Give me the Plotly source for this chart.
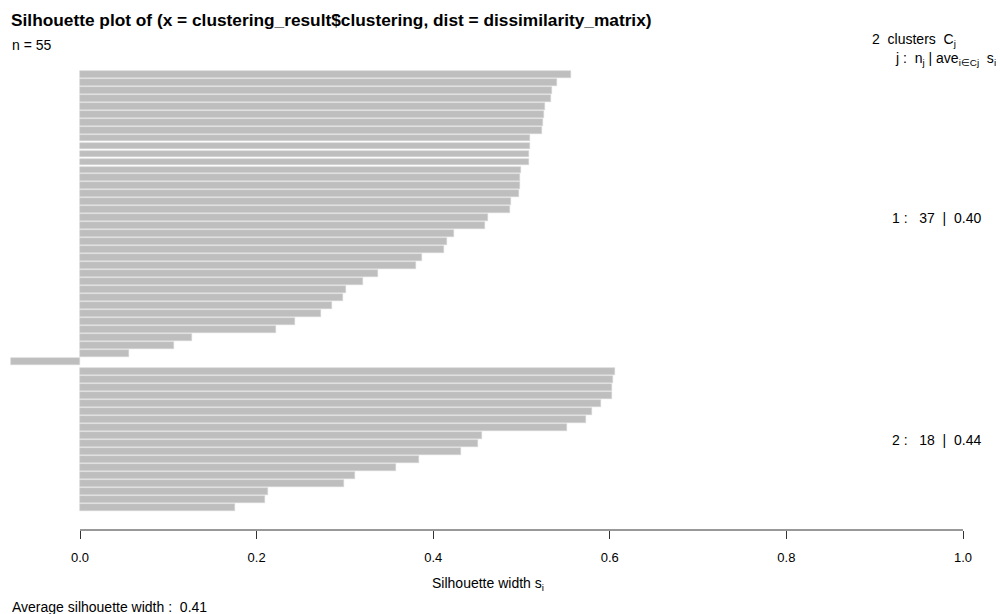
import plotly.graph_objects as go

# ---- data ----
cluster1_widths = [0.556, 0.540, 0.535, 0.533, 0.527, 0.526, 0.524, 0.523,
                   0.510, 0.510, 0.509, 0.508, 0.499, 0.498, 0.498, 0.497,
                   0.488, 0.487, 0.462, 0.459, 0.423, 0.416, 0.412, 0.387,
                   0.380, 0.338, 0.321, 0.301, 0.298, 0.285, 0.273, 0.243,
                   0.222, 0.127, 0.106, 0.055, -0.078]
cluster2_widths = [0.606, 0.604, 0.602, 0.602, 0.590, 0.580, 0.573, 0.552,
                   0.455, 0.451, 0.431, 0.384, 0.358, 0.311, 0.299, 0.213,
                   0.209, 0.175]
cluster_ids = [1, 2]
cluster_sizes = [37, 18]
cluster_avgs = [0.40, 0.44]
avg_width = 0.41
n_total = 55
x_ticks = [0.0, 0.2, 0.4, 0.6, 0.8, 1.0]
x_ticklabels = ["0.0", "0.2", "0.4", "0.6", "0.8", "1.0"]

# ---- layout constants ----
W, H = 1000, 614
GAP = 0.33          # extra space between clusters (in bar units)
BAR_COLOR = "#BEBEBE"
FONT = "Liberation Sans, Arial, sans-serif"
NB = "\u00a0"       # non-breaking space (keeps R's double spaces)

# bar positions (top to bottom)
pos1 = list(range(len(cluster1_widths)))
start2 = len(cluster1_widths) + GAP
pos2 = [start2 + i for i in range(len(cluster2_widths))]

fig = go.Figure()
fig.add_trace(go.Bar(
    x=cluster1_widths + cluster2_widths,
    y=pos1 + pos2,
    orientation="h",
    width=0.86,
    marker=dict(color=BAR_COLOR, line=dict(width=0.6, color="#D4D4D4")),
    hoverinfo="x",
    showlegend=False,
))

# x range: pixel 0 -> left edge, 0.0 at px 80, 1.0 at px 963
px_per_unit = 883.0
x0_px = 80.0
x_range = [(0 - x0_px) / px_per_unit, (W - x0_px) / px_per_unit]

# y range: plot area from px 60 to 530; bar 0 centre at px 74.3, 7.97 px per bar
top_px, bot_px = 60.0, 530.0
bar0_px, unit_px = 74.3, 7.97
y_top = (top_px - bar0_px) / unit_px
y_bot = (bot_px - bar0_px) / unit_px

fig.update_layout(
    width=W, height=H,
    margin=dict(l=0, r=0, t=int(top_px), b=int(H - bot_px)),
    paper_bgcolor="white", plot_bgcolor="white",
    font=dict(family=FONT, size=14, color="black"),
    xaxis=dict(range=x_range, tickvals=x_ticks, ticktext=x_ticklabels,
               showgrid=False, zeroline=False, showline=False,
               ticks="outside", ticklen=8, tickwidth=1, tickcolor="#333333",
               ticklabelstandoff=7,
               tickfont=dict(size=13, family=FONT, color="black"), fixedrange=True),
    yaxis=dict(range=[y_bot, y_top], showgrid=False, zeroline=False,
               showline=False, showticklabels=False, ticks="", fixedrange=True),
    bargap=0,
)

# axis line from 0 to 1 only
fig.add_shape(type="line", xref="x", yref="paper", x0=x_ticks[0], x1=x_ticks[-1],
              y0=0, y1=0, line=dict(color="#333333", width=1))

def py(ypx):
    # page pixel -> paper (plot-area) fraction
    return (bot_px - ypx) / (bot_px - top_px)

def ann(text, xpx, ypx, size=14, anchor="left", bold=False):
    fig.add_annotation(text=("<b>%s</b>" % text) if bold else text,
                       xref="paper", yref="paper",
                       x=xpx / W, y=py(ypx), xanchor=anchor, yanchor="middle",
                       showarrow=False, font=dict(size=size, family=FONT, color="black"))

ann("Silhouette plot of (x = clustering_result$clustering, dist = dissimilarity_matrix)",
    9, 20, size=17.3, bold=True)
ann("n = %d" % n_total, 10, 45)
ann("%d%sclusters%sC<sub>j</sub>" % (len(cluster_ids), NB * 2, NB * 2), 958, 40, anchor="right")
ann("j%s:%sn<sub>j</sub>%s|%save<sub>i∈Cj</sub>%ss<sub>i</sub>" % (NB, NB * 2, NB, NB, NB * 2),
    998, 59, anchor="right")
ann("Average silhouette width%s:%s%.2f" % (NB, NB * 2, avg_width), 10, 607)

# x-axis title
fig.add_annotation(text="Silhouette width s<sub>i</sub>", xref="x", yref="paper",
                   x=0.462, y=py(584), xanchor="center", yanchor="middle",
                   showarrow=False, font=dict(size=14, family=FONT))

# cluster labels at the middle of each cluster
mids = [sum(pos1) / len(pos1), sum(pos2) / len(pos2)]
for cid, n, a, m in zip(cluster_ids, cluster_sizes, cluster_avgs, mids):
    label = "%d%s:%s%d%s|%s%.2f" % (cid, NB, NB * 3, n, NB * 2, NB * 2, a)
    fig.add_annotation(text=label, xref="paper", yref="y",
                       x=983 / W, y=m, xanchor="right", yanchor="middle",
                       showarrow=False, font=dict(size=14, family=FONT))

fig.write_html("out.html")
